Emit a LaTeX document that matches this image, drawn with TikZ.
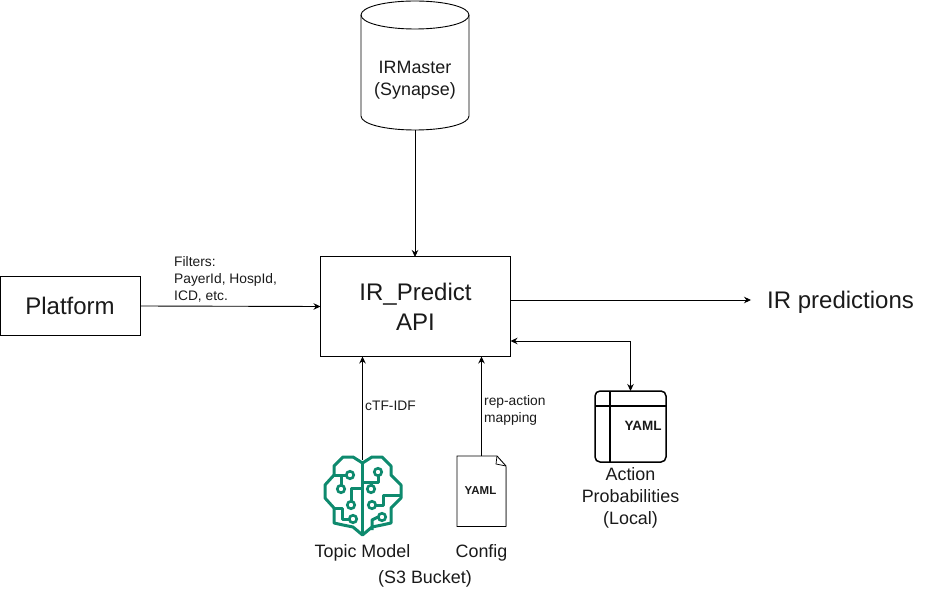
\documentclass[tikz,border=0pt]{standalone}
\usepackage{fontspec}
\setmainfont{Liberation Sans}
\usetikzlibrary{arrows.meta}
\definecolor{brain}{HTML}{0E8A6E}
\definecolor{txt}{HTML}{1A1A1A}
\tikzset{
  x=1pt,y=-1pt,
  line/.style={draw=black,line width=0.9pt},
  conn/.style={line,-{Stealth[length=7pt,width=6.5pt]}},
  box/.style={line,fill=white,inner sep=0pt,outer sep=0pt,align=center,text=txt},
  lab/.style={inner sep=0pt,align=center,text=txt},
  small/.style={lab,align=left,font=\fontsize{13.8}{17}\selectfont},
  mid/.style={lab,font=\fontsize{17.9}{21.7}\selectfont},
  big/.style={lab,font=\fontsize{24}{30}\selectfont},
  br/.style={draw=brain,line width=3pt,line join=round},
  brc/.style={draw=brain,line width=2.6pt,fill=white},
}
\begin{document}
\begin{tikzpicture}
\useasboundingbox (0,0) rectangle (931,593);
% nodes
\node[box,big,draw,minimum width=140pt,minimum height=59pt] (platform) at (70,306) {Platform};
\node[box,draw,font=\fontsize{24}{30}\selectfont,minimum width=190pt,minimum height=100pt] (api) at (415.5,306.5) {IR\_Predict\\API};
\node[big,anchor=west] (pred) at (767,302) {IR predictions};
\coordinate (predin) at (751,300);
% cylinder
\draw[line,fill=white] (361,15) .. controls (361,7) and (385,1) .. (415,1) .. controls (445,1) and (469,7) .. (469,15) -- (469,116) .. controls (469,124) and (445,130) .. (415,130) .. controls (385,130) and (361,124) .. (361,116) -- cycle;
\draw[line] (361,15) .. controls (361,23) and (385,29) .. (415,29) .. controls (445,29) and (469,23) .. (469,15);
\coordinate (dbbottom) at (415,130);
\node[mid] (db) at (415,80) {IRMaster\\(Synapse)};
% table
\draw[line,line width=1.5pt,rounded corners=5pt] (595,391) rectangle (666,462);
\draw[line,line width=1.2pt] (595,406) -- (666,406) (610,391) -- (610,462);
\coordinate (tabletop) at (630.5,391);
\node[lab,font=\bfseries\fontsize{13.5}{16}\selectfont] (yaml2) at (643,426) {YAML};
\node[mid] (prob) at (630.5,498) {Action\\Probabilities\\(Local)};
% document
\draw[line] (457,456) -- (497,456) -- (506,466) -- (506,526.5) -- (457,526.5) -- cycle;
\draw[line,line width=0.7pt] (497,456) -- (496,464) -- (506,466);
\draw[line width=1.2pt,draw=gray] (506.5,467) -- (506.5,526);
\coordinate (doctop) at (481.5,456);
\node[lab,font=\bfseries\fontsize{11.5}{14}\selectfont] (yaml1) at (480.5,491) {YAML};
\node[mid] (config) at (481.5,553) {Config};
\node[mid] (topic) at (362.5,553) {Topic Model};
\node[mid] (s3) at (425,579) {(S3 Bucket)};
% brain
\coordinate (braintop) at (362.5,460);
\draw[br] (362.5,463) -- (362.5,534);
\draw[br] (362.5,463) -- (353,457) -- (343,457) -- (334,466) -- (334,475) -- (325,485) -- (325,498) -- (334,508) -- (334,523) -- (343,525) -- (353,527) -- (362.5,535) -- (372,527) -- (382,525) -- (391,523) -- (391,508) -- (401,498) -- (401,485) -- (391,475) -- (391,466) -- (382,457) -- (372,457) -- cycle;
\draw[br] (334,475) -- (346,475) (341,475) -- (341,486);
\draw[br] (351,501) -- (351,488) -- (362,488);
\draw[br] (362,482) -- (378,482) -- (378,476);
\draw[br] (371,482) -- (371,486);
\draw[br] (376,505) -- (383,505) -- (383,495) -- (401,495);
\draw[br] (334,508) -- (342,508) -- (342,519) -- (349,519);
\draw[br] (372,530) -- (372,520) -- (378,517);
\foreach \n/\cx/\cy in {c1/350/475,c2/341/489,c3/351/505,c4/353/519,c5/378/472,c6/371/489,c7/372/505,c8/382/517}
  \node[brc,circle,minimum size=7.5pt,inner sep=0pt] (\n) at (\cx,\cy) {};
% edge labels
\node[small,anchor=north west] (filters) at (174,256) {Filters:\\PayerId, HospId,\\ICD, etc.};
\node[small,anchor=west] (ctf) at (365,406) {cTF-IDF};
\node[small,anchor=north west] (rep) at (484,395) {rep-action\\mapping};
% connectors
\draw[conn] (dbbottom) -- (415,257);
\draw[conn] (platform.east) -- (api.west);
\draw[conn] (api.east |- predin) -- (predin);
\draw[conn] (braintop) -- (362.5,356.5);
\draw[conn] (doctop) -- (481.5,356.5);
\draw[line,{Stealth[length=7pt,width=6.5pt]}-{Stealth[length=7pt,width=6.5pt]}] (510.5,341) -- (630.5,341) -- (tabletop);
\end{tikzpicture}
\end{document}
